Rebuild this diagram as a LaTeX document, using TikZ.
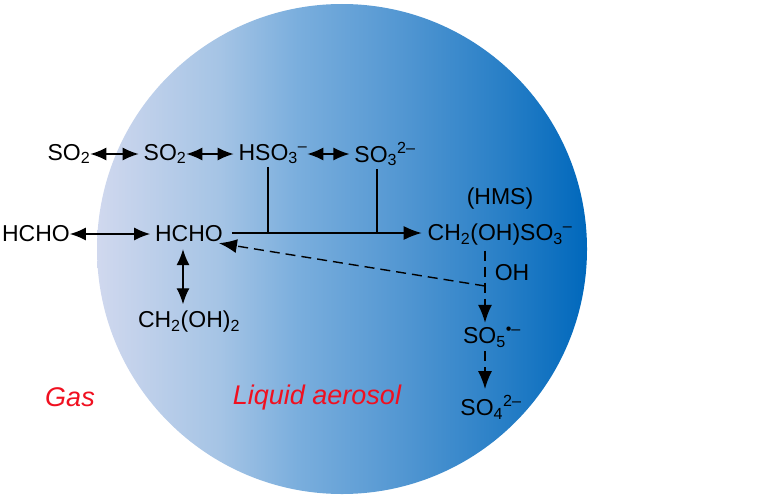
\documentclass[tikz,border=0pt]{standalone}
\usepackage{fontspec}
\setmainfont{Liberation Sans}
\usetikzlibrary{arrows.meta}
\definecolor{dropA}{HTML}{D0D8EE}
\definecolor{dropB}{HTML}{A5C4E5}
\definecolor{dropC}{HTML}{7AAEDD}
\definecolor{dropD}{HTML}{5397D2}
\definecolor{dropE}{HTML}{2A80C7}
\definecolor{dropF}{HTML}{0068BC}
\definecolor{labelred}{HTML}{F01020}
\pgfdeclarehorizontalshading{dropfill}{100bp}{color(0bp)=(dropA); color(25bp)=(dropA); color(37.5bp)=(dropB); color(45.5bp)=(dropC); color(56bp)=(dropD); color(66bp)=(dropE); color(75bp)=(dropF); color(100bp)=(dropF)}
\newcommand{\lo}[1]{\textsubscript{#1}}
\newcommand{\hi}[1]{\textsuperscript{#1}}

\begin{document}
\begin{tikzpicture}[x=1pt,y=-1pt,
chem/.style={inner sep=2pt,outer sep=0pt,font=\fontsize{23}{27}\selectfont,text=black},
phase/.style={chem,font=\fontsize{27}{31}\selectfont\itshape,text=labelred},
link/.style={line width=1.4pt,black},
eq/.style={link,{Latex[length=16pt,width=13pt]}-{Latex[length=16pt,width=13pt]},shorten <=-2pt,shorten >=3pt},
go/.style={link,-{Latex[length=18pt,width=14pt]}},
godash/.style={go,dash pattern=on 10pt off 6pt}]
\useasboundingbox (0,0) rectangle (759,495);

\node[circle,minimum size=490pt,inner sep=0pt,shading=dropfill] (drop) at (342,249) {};

\node[chem] (SOg) at (69,154) {SO\lo{2}};
\node[chem] (SOa) at (165,154) {SO\lo{2}};
\node[chem] (HSO) at (273,154) {HSO\lo{3}\hi{--}};
\node[chem] (SOt) at (385,154) {SO\lo{3}\hi{2--}};

\node[chem] (HCg) at (36,234) {HCHO};
\node[chem] (HCa) at (189,234) {HCHO};
\node[chem] (diol) at (189,322) {CH\lo{2}(OH)\lo{2}};

\node[chem] (HMSname) at (500,199) {(HMS)};
\node[chem] (HMS) at (500,235) {CH\lo{2}(OH)SO\lo{3}\hi{--}};
\node[chem] (OH) at (512,273) {OH};
\node[chem] (SOf) at (492,337) {SO\lo{5}\hi{\textbullet--}};
\node[chem] (SOs) at (491,407) {SO\lo{4}\hi{2--}};

\node[phase] (gas) at (70,397) {Gas};
\node[phase] (liq) at (317,398) {Liquid aerosol};

\coordinate (joinA) at (268,233);
\coordinate (joinB) at (377,233);
\coordinate (turn) at (485,286);

\draw[eq] (SOg.east) -- (SOa.west);
\draw[eq] (SOa.east) -- (HSO.west);
\draw[eq] (HSO.east) -- (SOt.west);
\draw[eq] (HCg.east) -- (HCa.west);
\draw[eq,shorten <=5pt,shorten >=5pt] (HCa.south -| 183,0) -- (diol.north -| 183,0);

\draw[link,shorten <=1pt] (joinA |- HSO.south) -- (joinA);
\draw[link,shorten <=1pt] (joinB |- SOt.south) -- (joinB);
\draw[go,shorten <=7pt,shorten >=4pt] (HCa.east |- joinA) -- (HMS.west |- joinA);

\draw[godash,shorten <=3pt,shorten >=2pt] (HMS.south -| turn) -- (turn) -- (SOf.north -| turn);
\draw[godash,shorten >=-6pt] (turn) -- (HCa.south east);
\draw[godash,shorten <=2pt,shorten >=4pt] (SOf.south -| turn) -- (SOs.north -| turn);
\end{tikzpicture}
\end{document}
